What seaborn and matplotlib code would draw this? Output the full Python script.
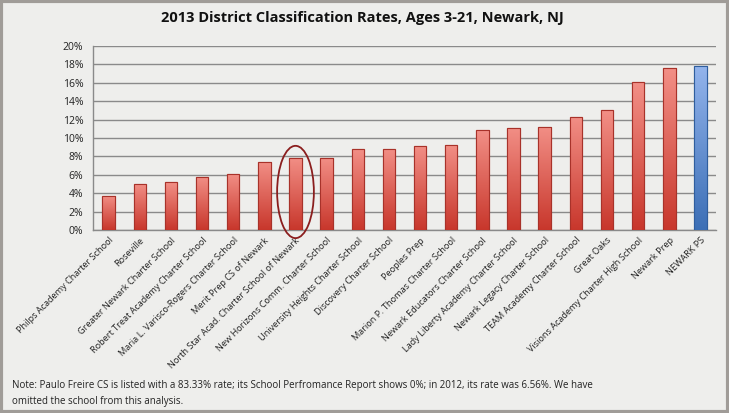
import numpy as np
import pandas as pd
import seaborn as sns
import matplotlib.pyplot as plt
from matplotlib.colors import LinearSegmentedColormap
from matplotlib.patches import Ellipse, Rectangle

schools = [
    "Philps Academy Charter School", "Roseville", "Greater Newark Charter School",
    "Robert Treat Academy Charter School", "Maria L. Varisco-Rogers Charter School",
    "Merit Prep CS of Newark", "North Star Acad. Charter School of Newark",
    "New Horizons Comm. Charter School", "University Heights Charter School",
    "Discovery Charter School", "Peoples Prep", "Marion P. Thomas Charter School",
    "Newark Educators Charter School", "Lady Liberty Academy Charter School",
    "Newark Legacy Charter School", "TEAM Academy Charter School", "Great Oaks",
    "Visions Academy Charter High School", "Newark Prep", "NEWARK PS",
]
rates = [3.75, 5.0, 5.2, 5.8, 6.07, 7.37, 7.83, 7.83, 8.77, 8.84,
         9.13, 9.24, 10.83, 11.08, 11.19, 12.31, 13.0, 16.03, 17.55, 17.8]
highlight = "North Star Acad. Charter School of Newark"
district = "NEWARK PS"

title = "2013 District Classification Rates, Ages 3-21, Newark, NJ"
note = ("Note: Paulo Freire CS is listed with a 83.33% rate; its School Perfromance Report "
        "shows 0%; in 2012, its rate was 6.56%. We have\nomitted the school from this analysis.")

df = pd.DataFrame({"school": schools, "rate": rates})

sns.set_style("white")
plt.rcParams["font.family"] = ["Open Sans", "DejaVu Sans"]
bg = "#EEEEEC"

fig = plt.figure(figsize=(7.29, 4.13), dpi=100, facecolor=bg)
ax = fig.add_axes([0.1276, 0.4424, 0.8546, 0.447], facecolor=bg)

sns.barplot(data=df, x="school", y="rate", width=0.4, color="#D9473A",
            edgecolor="#A8322A", linewidth=0.8, ax=ax, zorder=3)

# vertical gradient fill clipped to each bar
red_cm = LinearSegmentedColormap.from_list("red", ["#C8372C", "#F28F86"])
blue_cm = LinearSegmentedColormap.from_list("blue", ["#3C6FB6", "#93B4EC"])
grad = np.linspace(0, 1, 100).reshape(-1, 1)
for patch, name in zip(ax.patches, schools):
    x0, y0 = patch.get_x(), patch.get_y()
    w, h = patch.get_width(), patch.get_height()
    cm = blue_cm if name == district else red_cm
    if name == district:
        patch.set_edgecolor("#2F5E9E")
    img = ax.imshow(grad, cmap=cm, origin="lower", aspect="auto",
                    extent=[x0, x0 + w, y0, y0 + h], zorder=3.5)
    img.set_clip_path(patch)
    edge = Rectangle((x0, y0), w, h, fill=False, edgecolor=patch.get_edgecolor(),
                     linewidth=0.8, zorder=4)
    ax.add_patch(edge)

ax.set_xlim(-0.5, len(schools) - 0.5)
ax.set_ylim(0, 20)
ax.set_yticks(range(0, 21, 2))
ax.set_yticklabels([f"{v}%" for v in range(0, 21, 2)], fontsize=7.5, color="#222222")
ax.yaxis.grid(True, color="#8A8A8A", linewidth=1.0, zorder=1)
ax.set_axisbelow(True)

ax.set_xticks(range(len(schools)))
ax.set_xticklabels(schools, rotation=45, ha="right", rotation_mode="anchor",
                   fontsize=6.6, color="#222222")
ax.tick_params(axis="x", length=0, pad=4)
ax.tick_params(axis="y", length=4, direction="out", color="#8A8A8A", pad=3)
ax.set_xticks(np.arange(-0.5, len(schools)), minor=True)
ax.tick_params(axis="x", which="minor", length=4, direction="out", color="#8A8A8A")
ax.set_xlabel("")
ax.set_ylabel("")

for side in ["top", "right"]:
    ax.spines[side].set_visible(False)
for side in ["left", "bottom"]:
    ax.spines[side].set_color("#8A8A8A")
    ax.spines[side].set_linewidth(1.0)

hi = schools.index(highlight)
ax.add_patch(Ellipse((hi, 4.15), 1.18, 10.0, fill=False, edgecolor="#8B1E1E",
                     linewidth=1.3, zorder=5, clip_on=False))

fig.text(0.497, 0.956, title, ha="center", va="center", fontsize=10.5,
         fontweight="bold", color="#111111")
fig.text(0.017, 0.047, note, ha="left", va="center", fontsize=7.0,
         color="#222222", linespacing=1.55)

fig.add_artist(Rectangle((0.002, 0.003), 0.996, 0.994, transform=fig.transFigure,
                         fill=False, edgecolor="#A09C98", linewidth=3))

fig.savefig("out.png", dpi=100, facecolor=bg)
